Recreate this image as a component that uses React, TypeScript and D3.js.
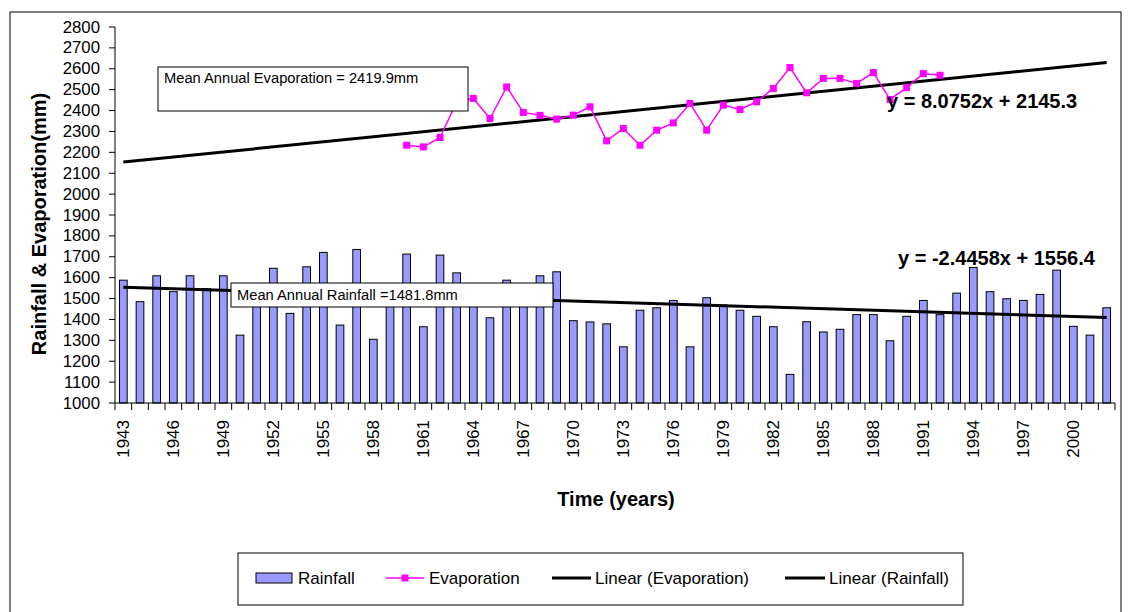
import React from "react";
import * as d3 from "d3";

const years: number[] = d3.range(1943, 2003);
const rainfall: number[] = [
  1588, 1485, 1609, 1533, 1609, 1547, 1609, 1325, 1540, 1645,
  1429, 1652, 1721, 1373, 1735, 1305, 1520, 1713, 1365, 1708,
  1623, 1525, 1408, 1588, 1535, 1609, 1628, 1394, 1388, 1379,
  1269, 1444, 1456, 1491, 1269, 1504, 1469, 1444, 1415, 1365,
  1137, 1389, 1340, 1353, 1423, 1423, 1298, 1415, 1491, 1423,
  1526, 1649, 1533, 1499, 1491, 1520, 1636, 1367, 1325, 1456,
];
const evapYears: number[] = d3.range(1960, 1993);
const evaporation: number[] = [
  2234, 2226, 2271, 2440, 2458, 2362, 2513, 2391, 2377, 2359,
  2378, 2418, 2255, 2314, 2234, 2306, 2341, 2434, 2306, 2426,
  2405, 2442, 2506, 2606, 2485, 2554, 2554, 2530, 2582, 2453,
  2510, 2577, 2569,
];
const evapTrend = { slope: 8.0752, intercept: 2145.3 };
const rainTrend = { slope: -2.4458, intercept: 1556.4 };
const yTicks: number[] = d3.range(1000, 2801, 100);
const xLabelYears: number[] = years.filter((y) => (y - 1943) % 3 === 0);

const FONT = "'Liberation Sans', Arial, sans-serif";

export default function App() {
  const x = d3.scaleBand<number>().domain(years).range([115, 1115]).paddingInner(0).paddingOuter(0);
  const y = d3.scaleLinear().domain([1000, 2800]).range([403, 27]);
  const bw = x.bandwidth();
  const cx = (yr: number) => (x(yr) as number) + bw / 2;
  const barW = 7.7;

  const evapLine = d3
    .line<number>()
    .x((_, i) => cx(evapYears[i]))
    .y((d) => y(d))(evaporation) as string;

  const trendPts = (t: { slope: number; intercept: number }) => {
    const x1 = 1, x2 = years.length;
    return {
      x1: cx(years[0]), y1: y(t.slope * x1 + t.intercept),
      x2: cx(years[years.length - 1]), y2: y(t.slope * x2 + t.intercept),
    };
  };
  const et = trendPts(evapTrend);
  const rt = trendPts(rainTrend);

  return (
    <svg width={1133} height={612} style={{ position: "absolute", left: 0, top: 0, background: "#fff" }} fontFamily={FONT}>
      <rect x={10} y={12} width={1111} height={610} fill="#fff" stroke="#000" strokeWidth={1} />

      {/* bars */}
      {rainfall.map((v, i) => (
        <rect key={i} x={cx(years[i]) - barW / 2} y={y(v)} width={barW} height={y(1000) - y(v)}
          fill="#9999FF" stroke="#000" strokeWidth={1} />
      ))}

      {/* y axis */}
      <line x1={115} x2={115} y1={y(2800)} y2={y(1000)} stroke="#000" strokeWidth={1} />
      {yTicks.map((t) => (
        <g key={t}>
          <line x1={109} x2={115} y1={y(t)} y2={y(t)} stroke="#000" />
          <text x={100} y={y(t)} textAnchor="end" dominantBaseline="central" fontSize={16.8}>{t}</text>
        </g>
      ))}
      {/* x axis */}
      <line x1={115} x2={1115} y1={403} y2={403} stroke="#000" />
      {years.map((yr) => (
        <line key={yr} x1={x(yr) as number} x2={x(yr) as number} y1={403} y2={410} stroke="#000" />
      ))}
      <line x1={1115} x2={1115} y1={403} y2={410} stroke="#000" />
      {xLabelYears.map((yr) => (
        <text key={yr} transform={`translate(${cx(yr)},420) rotate(-90)`} textAnchor="end"
          dominantBaseline="central" fontSize={17}>{yr}</text>
      ))}

      {/* trend lines */}
      <line {...et} stroke="#000" strokeWidth={3} />
      <line {...rt} stroke="#000" strokeWidth={3} />

      {/* evaporation */}
      <path d={evapLine} fill="none" stroke="#FF00FF" strokeWidth={1.5} />
      {evaporation.map((v, i) => (
        <rect key={i} x={cx(evapYears[i]) - 3.5} y={y(v) - 3.5} width={7} height={7} fill="#FF00FF" />
      ))}

      {/* annotation boxes */}
      <rect x={158} y={67} width={310} height={44} fill="#fff" stroke="#000" strokeWidth={1} />
      <text x={164} y={83} fontSize={14.7}>Mean Annual Evaporation = 2419.9mm</text>
      <rect x={231} y={283} width={322} height={24} fill="#fff" stroke="#000" strokeWidth={1} />
      <text x={237} y={300} fontSize={14.7}>Mean Annual Rainfall =1481.8mm</text>

      <text x={887} y={108} fontSize={20} fontWeight="bold">y = 8.0752x + 2145.3</text>
      <text x={898} y={265} fontSize={20} fontWeight="bold">y = -2.4458x + 1556.4</text>

      {/* axis titles */}
      <text x={616} y={506} textAnchor="middle" fontSize={20} fontWeight="bold">Time (years)</text>
      <text transform="translate(46,224) rotate(-90)" textAnchor="middle" fontSize={20} fontWeight="bold">
        Rainfall &amp; Evaporation(mm)
      </text>

      {/* legend */}
      <rect x={238} y={553} width={725} height={52} fill="#fff" stroke="#000" strokeWidth={1} />
      <rect x={256} y={573} width={36} height={10} fill="#9999FF" stroke="#000" />
      <text x={298} y={584} fontSize={17}>Rainfall</text>
      <line x1={386} x2={424} y1={578} y2={578} stroke="#FF00FF" strokeWidth={1.5} />
      <rect x={401.5} y={574.5} width={7} height={7} fill="#FF00FF" />
      <text x={429} y={584} fontSize={17}>Evaporation</text>
      <line x1={552} x2={591} y1={578} y2={578} stroke="#000" strokeWidth={3} />
      <text x={595} y={584} fontSize={17}>Linear (Evaporation)</text>
      <line x1={785} x2={825} y1={578} y2={578} stroke="#000" strokeWidth={3} />
      <text x={829} y={584} fontSize={17}>Linear (Rainfall)</text>
    </svg>
  );
}
